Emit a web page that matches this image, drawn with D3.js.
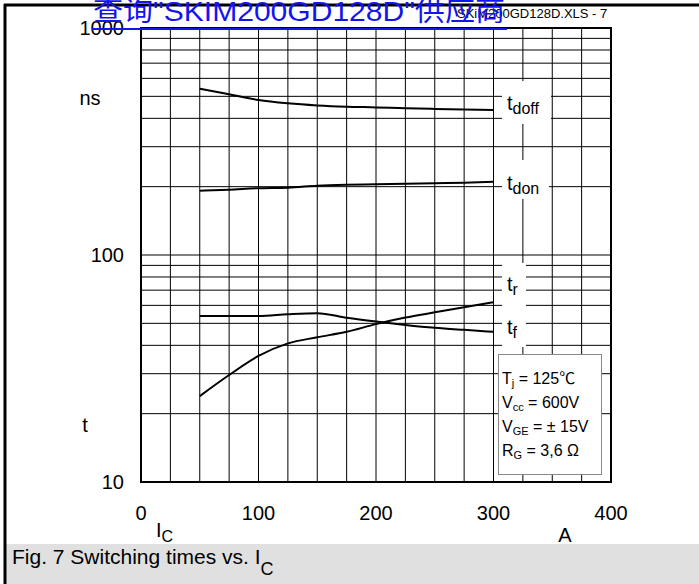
<!DOCTYPE html>
<html><head><meta charset="utf-8">
<script src="https://cdn.jsdelivr.net/npm/d3@7"></script>
<style>
html,body{margin:0;padding:0;background:#fff;}
svg{display:block;font-family:"Liberation Sans",Arial,"Noto Sans CJK SC",sans-serif;}
</style></head>
<body>
<script>
// ---- data ----
const ic = [50, 75, 100, 125, 150, 175, 200, 225, 250, 275, 300];
const tdoff = [540, 511, 482, 466, 456, 450, 447, 443, 440, 438, 435];
const tdon = [192, 194, 197, 198, 202, 204, 205, 206, 207, 208, 210];
const tr = [23.9, 29.6, 35.9, 40.8, 43.4, 45.9, 49.6, 53, 55.9, 58.9, 61.9];
const tf = [53.8, 53.8, 53.8, 54.8, 55.4, 52.9, 50.9, 49.2, 47.8, 46.8, 45.9];
const xTicks = [0, 100, 200, 300, 400];
const yTicks = [10, 100, 1000];
const legendLines = [["T","j"," = 125℃"],["V","cc"," = 600V"],["V","GE"," = ± 15V"],["R","G"," = 3,6 Ω"]];
const linkText = "查询\"SKIM200GD128D\"供应商";
const fileText = "SKiM200GD128D.XLS - 7";

const W = 699, H = 584;
const svg = d3.select("body").append("svg").attr("width", W).attr("height", H);

const x = d3.scaleLinear().domain([0, 400]).range([141, 611]);
const y = d3.scaleLog().domain([10, 1000]).range([482, 28]);

// caption background
svg.append("rect").attr("x", 5).attr("y", 544).attr("width", W - 5).attr("height", H - 544).attr("fill", "#e0e0e0");

// outer frame
svg.append("line").attr("x1", 4).attr("x2", W).attr("y1", 5).attr("y2", 5).attr("stroke", "#000").attr("stroke-width", 3);
svg.append("line").attr("x1", 5).attr("x2", 5).attr("y1", 4).attr("y2", H).attr("stroke", "#000").attr("stroke-width", 3);

// grid
const g = svg.append("g");
const vx = d3.range(0, 401, 25);
g.selectAll("line.v").data(vx).enter().append("line")
  .attr("x1", d => x(d)).attr("x2", d => x(d)).attr("y1", y(1000)).attr("y2", y(10))
  .attr("stroke", "#000").attr("stroke-width", 1);
const hy = d3.range(10, 100, 10).concat(d3.range(100, 1001, 100));
g.selectAll("line.h").data(hy).enter().append("line")
  .attr("x1", x(0)).attr("x2", x(400)).attr("y1", d => y(d)).attr("y2", d => y(d))
  .attr("stroke", "#000").attr("stroke-width", 1);
svg.append("rect").attr("x", x(0)).attr("y", y(1000)).attr("width", x(400) - x(0)).attr("height", y(10) - y(1000))
  .attr("fill", "none").attr("stroke", "#000").attr("stroke-width", 2);

// curves
const line = d3.line().x(d => x(d[0])).y(d => y(d[1])).curve(d3.curveMonotoneX);
[tdoff, tdon, tr, tf].forEach(s => {
  svg.append("path").attr("d", line(ic.map((c, i) => [c, s[i]])))
    .attr("fill", "none").attr("stroke", "#000").attr("stroke-width", 2);
});

// label backgrounds
[[502, 81, 49, 43], [502, 160, 47, 39], [502, 263, 24, 84]].forEach(r => {
  svg.append("rect").attr("x", r[0]).attr("y", r[1]).attr("width", r[2]).attr("height", r[3]).attr("fill", "#fff");
});
function sublabel(xp, yb, main, sub, fs, sfs, dy) {
  const t = svg.append("text").attr("x", xp).attr("y", yb).attr("font-size", fs).attr("fill", "#000");
  t.append("tspan").text(main);
  t.append("tspan").attr("font-size", sfs).attr("dy", dy).text(sub);
  return t;
}
sublabel(507, 110, "t", "doff", 20, 16, 4);
sublabel(507, 190, "t", "don", 20, 16, 4);
sublabel(507, 291, "t", "r", 20, 16, 4);
sublabel(507, 334, "t", "f", 20, 16, 4);

// legend box
svg.append("rect").attr("x", 498.5).attr("y", 354.5).attr("width", 103).attr("height", 120)
  .attr("fill", "#fff").attr("stroke", "#888").attr("stroke-width", 1);
legendLines.forEach((l, i) => {
  const t = svg.append("text").attr("x", 502).attr("y", 384 + i * 24).attr("font-size", 16).attr("fill", "#000");
  t.append("tspan").text(l[0]);
  t.append("tspan").attr("font-size", 11).attr("dy", 3).text(l[1]);
  t.append("tspan").attr("dy", -3).text(l[2]);
});

// axis tick labels
svg.selectAll("text.yt").data(yTicks).enter().append("text")
  .attr("x", 124).attr("y", d => y(d) + 7).attr("text-anchor", "end").attr("font-size", 20).text(d => d);
svg.selectAll("text.xt").data(xTicks).enter().append("text")
  .attr("x", d => x(d)).attr("y", 520).attr("text-anchor", "middle").attr("font-size", 20).text(d => d);
svg.append("text").attr("x", 90).attr("y", 105).attr("text-anchor", "middle").attr("font-size", 20).text("ns");
svg.append("text").attr("x", 85).attr("y", 432).attr("text-anchor", "middle").attr("font-size", 20).text("t");
sublabel(156, 537, "I", "C", 20, 16, 5);
svg.append("text").attr("x", 565).attr("y", 542).attr("text-anchor", "middle").attr("font-size", 20).text("A");

// caption
sublabel(12, 564, "Fig. 7 Switching times vs. I", "C", 21, 18, 11);

// file text
svg.append("text").attr("x", 457).attr("y", 18).attr("font-size", 13).attr("fill", "#000").text(fileText);

// link overlay
svg.append("text").attr("x", 93).attr("y", 21).attr("font-size", 28).attr("fill", "#1414f0")
  .attr("textLength", 412).attr("lengthAdjust", "spacingAndGlyphs").text(linkText);
svg.append("line").attr("x1", 92).attr("x2", 507).attr("y1", 29).attr("y2", 29).attr("stroke", "#1414f0").attr("stroke-width", 2);
</script>
</body></html>
